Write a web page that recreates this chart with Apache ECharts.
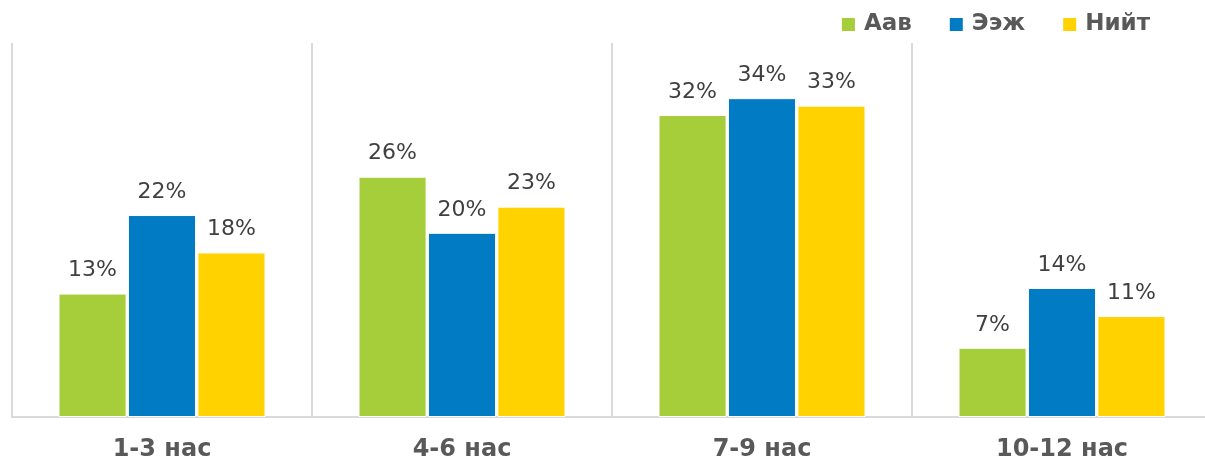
<!DOCTYPE html>
<html>
<head>
<meta charset="utf-8">
<script src="https://cdn.jsdelivr.net/npm/echarts@6/dist/echarts.min.js"></script>
<style>html,body{margin:0;padding:0;background:#fff;overflow:hidden}#c{width:1205px;height:462px}</style>
</head>
<body>
<div id="c"></div>
<script>
const categories = ['1-3 нас', '4-6 нас', '7-9 нас', '10-12 нас'];
const seriesNames = ['Аав', 'Ээж', 'Нийт'];
const aav = [13.2, 25.7, 32.3, 7.4];
const eej = [21.6, 19.7, 34.1, 13.8];
const niit = [17.6, 22.5, 33.3, 10.8];
const colors = ['#A5CE3A', '#007BC4', '#FFD200'];

const chart = echarts.init(document.getElementById('c'), null, {renderer: 'canvas'});
const mk = (name, data, color) => ({
  name, type: 'bar', data,
  barGap: '2%', barCategoryGap: '31%',
  itemStyle: {color, borderColor: '#fff', borderWidth: 1},
  label: {
    show: true, position: 'top', distance: 12,
    fontFamily: 'DejaVu Sans', fontSize: 22, color: '#404040',
    formatter: p => Math.round(p.value) + '%'
  }
});
chart.setOption({
  animation: false,
  color: colors,
  legend: {
    right: 50, top: 8,
    itemWidth: 15, itemHeight: 15, itemGap: 36,
    icon: 'rect',
    textStyle: {fontFamily: 'DejaVu Sans', fontWeight: 'bold', fontSize: 23, color: '#595959', padding: [0,0,0,3]},
    data: seriesNames
  },
  grid: {left: 12, width: 1200, top: 43, bottom: 45, containLabel: false, outerBoundsMode: 'none'},
  xAxis: {
    type: 'category', data: categories,
    axisLine: {show: true, lineStyle: {color: '#D9D9D9', width: 2}},
    axisTick: {show: false},
    splitLine: {show: true, interval: (idx) => idx < categories.length, lineStyle: {color: '#D9D9D9', width: 2}},
    axisLabel: {margin: 21, fontFamily: 'DejaVu Sans', fontWeight: 'bold', fontSize: 24, color: '#595959'}
  },
  yAxis: {
    type: 'value', min: 0, max: 40,
    show: false, splitLine: {show: false}
  },
  series: [mk(seriesNames[0], aav, colors[0]), mk(seriesNames[1], eej, colors[1]), mk(seriesNames[2], niit, colors[2])]
});
</script>
</body>
</html>
